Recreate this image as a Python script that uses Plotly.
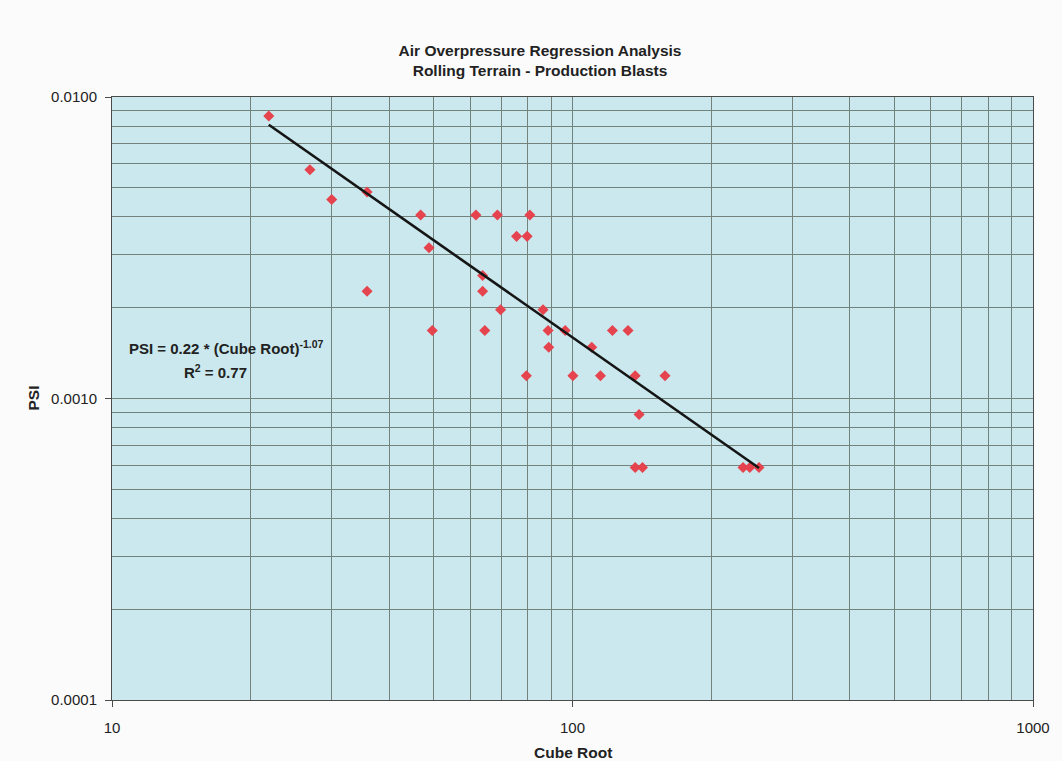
import plotly.graph_objects as go

# Data
cube_root = [21.9, 26.9, 30.0, 35.8, 35.8, 46.8, 48.8, 49.6, 61.7, 68.7, 80.8,
             75.6, 79.7, 63.8, 63.8, 64.5, 69.8, 79.4, 86.3, 88.5, 88.8, 96.4,
             100.2, 110.1, 115.0, 122.1, 132.0, 136.8, 139.5, 136.8, 141.9,
             158.8, 234.6, 242.6, 254.1]
psi = [0.00865, 0.00574, 0.00457, 0.00484, 0.00227, 0.00406, 0.00316, 0.00168,
       0.00406, 0.00406, 0.00406, 0.00345, 0.00345, 0.00256, 0.00227, 0.00168,
       0.00197, 0.00119, 0.00197, 0.00168, 0.00148, 0.00168, 0.00119, 0.00148,
       0.00119, 0.00168, 0.00168, 0.00119, 0.000885, 0.00059, 0.00059, 0.00119,
       0.00059, 0.00059, 0.00059]

# Regression line end points (PSI = 0.22 * CR^-1.07)
trend_x = [21.9, 254.1]
trend_y = [0.00809, 0.000588]

x_major = [10, 100, 1000]
x_major_text = ["10", "100", "1000"]
x_minor = [20, 30, 40, 50, 60, 70, 80, 90, 200, 300, 400, 500, 600, 700, 800, 900]
y_major = [0.0001, 0.001, 0.01]
y_major_text = ["0.0001", "0.0010", "0.0100"]
y_minor = [0.0002, 0.0003, 0.0004, 0.0005, 0.0006, 0.0007, 0.0008, 0.0009,
           0.002, 0.003, 0.004, 0.005, 0.006, 0.007, 0.008, 0.009]

FONT = "Liberation Sans, Arial, sans-serif"
GRID = "#73837c"

fig = go.Figure()
fig.add_trace(go.Scatter(
    x=cube_root, y=psi, mode="markers",
    marker=dict(symbol="diamond", size=8.5, color="#e5434d", line=dict(width=0)),
    showlegend=False, hoverinfo="x+y"))
fig.add_trace(go.Scatter(
    x=trend_x, y=trend_y, mode="lines",
    line=dict(color="#151515", width=2.6), showlegend=False))

axis_common = dict(
    type="log", showline=True, linecolor="#4a4a4a", linewidth=1, mirror=True,
    showgrid=True, gridcolor=GRID, gridwidth=1, zeroline=False, automargin=False,
    ticks="outside", ticklen=6, tickcolor="#4a4a4a",
    tickfont=dict(family=FONT, size=15, color="#222"),
)

fig.update_xaxes(
    **axis_common, range=[1, 3], tickvals=x_major, ticktext=x_major_text,
    ticklabelstandoff=8,
    minor=dict(tickvals=x_minor, showgrid=True, gridcolor=GRID, gridwidth=1, ticks=""),
)
fig.update_yaxes(
    **axis_common, range=[-4, -2], tickvals=y_major, ticktext=y_major_text,
    ticklabelstandoff=5,
    minor=dict(tickvals=y_minor, showgrid=True, gridcolor=GRID, gridwidth=1, ticks=""),
)

# Axis titles
fig.add_annotation(
    xref="paper", yref="paper", x=0.5, y=-52 / 603, xanchor="center", yanchor="middle",
    text="<b>Cube Root</b>", showarrow=False,
    font=dict(family=FONT, size=15.5, color="#222"))
fig.add_annotation(
    xref="paper", yref="paper", x=-79 / 921, y=0.5, xanchor="center", yanchor="middle",
    text="<b>PSI</b>", showarrow=False, textangle=-90,
    font=dict(family=FONT, size=15.5, color="#222"))

# Regression equation
fig.add_annotation(
    xref="paper", yref="paper", x=0.016, y=0.585, xanchor="left", yanchor="middle",
    text="<b>PSI = 0.22 * (Cube Root)<sup>-1.07</sup></b>", showarrow=False,
    font=dict(family=FONT, size=15, color="#222"))
fig.add_annotation(
    xref="paper", yref="paper", x=0.112, y=0.545, xanchor="center", yanchor="middle",
    text="<b>R<sup>2</sup> = 0.77</b>", showarrow=False,
    font=dict(family=FONT, size=15, color="#222"))

fig.update_layout(
    width=1062, height=761,
    margin=dict(l=112, r=29, t=97, b=61),
    paper_bgcolor="#fbfbfb", plot_bgcolor="#cae8ed",
    title=dict(text="<b>Air Overpressure Regression Analysis<br>Rolling Terrain - Production Blasts</b>",
               x=0.5085, xanchor="center", y=0.926, yanchor="middle",
               font=dict(family=FONT, size=15.5, color="#222")),
)

fig.write_html("out.html")
